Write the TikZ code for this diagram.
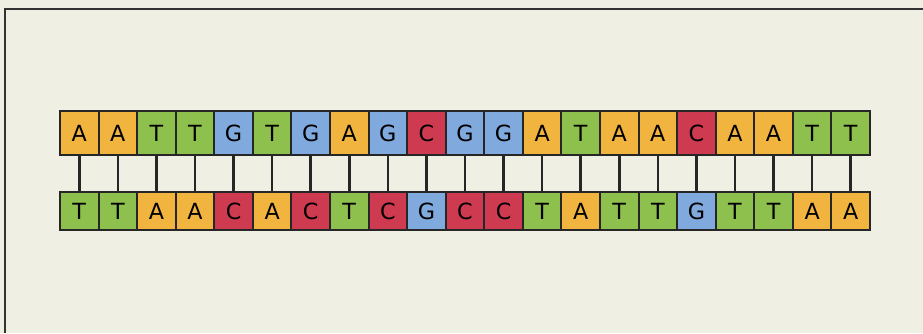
\documentclass[tikz,border=0pt]{standalone}
\usepackage{fontspec}
\setmainfont{DejaVu Sans}
\usetikzlibrary{positioning}

\definecolor{paper}{HTML}{F0EFE3}
\definecolor{adeninecol}{HTML}{F1B53F}
\definecolor{thyminecol}{HTML}{8DC04C}
\definecolor{guaninecol}{HTML}{80A9DD}
\definecolor{cytosinecol}{HTML}{CE3A50}

\tikzset{
  base/.style={draw=black!85, line width=1.7pt, inner sep=0pt,
    minimum width=1.157cm, font=\fontsize{19}{19}\selectfont},
  topbase/.style={base, minimum height=1.32cm},
  botbase/.style={base, minimum height=1.14cm},
  baseA/.style={fill=adeninecol},
  baseT/.style={fill=thyminecol},
  baseG/.style={fill=guaninecol},
  baseC/.style={fill=cytosinecol},
  rung/.style={draw=black!85, line width=2.2pt}
}

\begin{document}
\begin{tikzpicture}[x=0.03cm, y=-0.03cm]
    \fill[paper] (0,0) rectangle (923,333);
    \useasboundingbox (0,0) rectangle (923,333);
    \draw[black!80, line width=1.3pt] (5,333) -- (5,9) -- (923,9);

    % upper strand
    \foreach \i/\b in {1/A,2/A,3/T,4/T,5/G,6/T,7/G,8/A,9/G,10/C,11/G,
                       12/G,13/A,14/T,15/A,16/A,17/C,18/A,19/A,20/T,21/T}
      \node[topbase, base\b] (top-\i) at ({60+38.57*(\i-0.5)},133) {\b};
    % lower strand
    \foreach \i/\b in {1/T,2/T,3/A,4/A,5/C,6/A,7/C,8/T,9/C,10/G,11/C,
                       12/C,13/T,14/A,15/T,16/T,17/G,18/T,19/T,20/A,21/A}
      \node[botbase, base\b] (bot-\i) at ({60+38.57*(\i-0.5)},211) {\b};

    % base pairs
    \foreach \i in {1,...,21}
      \draw[rung] (top-\i.south) -- (bot-\i.north);
  \end{tikzpicture}
\end{document}
